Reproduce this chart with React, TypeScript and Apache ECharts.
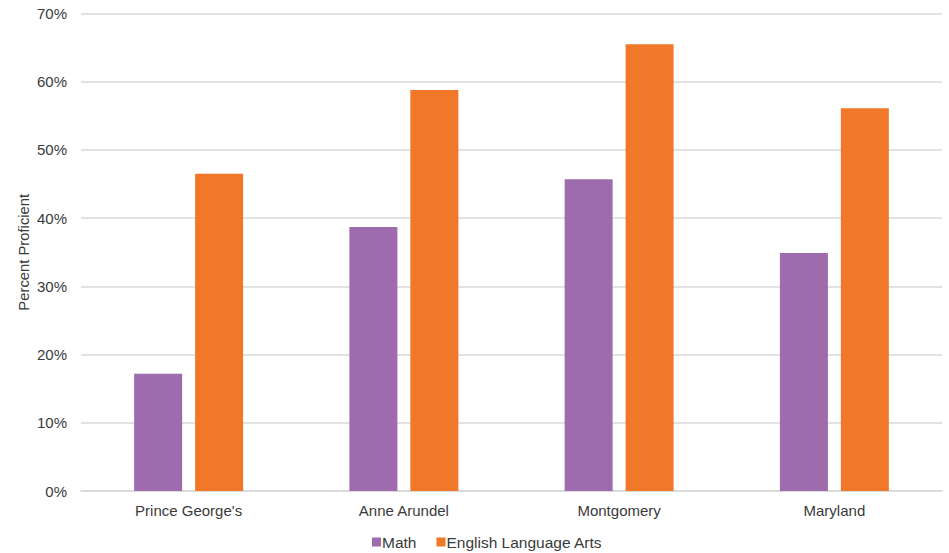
import React, { useEffect, useRef } from "react";
import * as echarts from "echarts";

// Share of students scoring proficient, by jurisdiction
const categories = ["Prince George's", "Anne Arundel", "Montgomery", "Maryland"];
const mathValues = [17.2, 38.7, 45.7, 34.9];
const elaValues = [46.5, 58.8, 65.5, 56.1];
const seriesNames = ["Math", "English Language Arts"];

const FONT = "'Liberation Sans', Arial, sans-serif";
const TEXT = "#3a3a3a";

export default function App() {
  const ref = useRef<HTMLDivElement>(null);

  useEffect(() => {
    if (!ref.current) return;
    const chart = echarts.init(ref.current, undefined, { renderer: "svg" });
    chart.setOption({
      animation: false,
      backgroundColor: "#ffffff",
      textStyle: { fontFamily: FONT },
      grid: { left: 81, right: 7, top: 13.5, bottom: 62, containLabel: false },
      legend: {
        data: seriesNames,
        left: 367,
        top: 529,
        itemWidth: 9,
        itemHeight: 9,
        itemGap: 20,
        icon: "rect",
        textStyle: { fontFamily: FONT, fontSize: 15.5, color: TEXT, padding: [0, 0, 0, -4] },
      },
      xAxis: {
        type: "category",
        data: categories,
        axisLine: { show: true, lineStyle: { color: "#d9d9d9", width: 1.5 } },
        axisTick: { show: false },
        axisLabel: { fontFamily: FONT, fontSize: 15, color: TEXT, margin: 12 },
      },
      yAxis: {
        type: "value",
        min: 0,
        max: 70,
        interval: 10,
        name: "Percent Proficient",
        nameLocation: "middle",
        nameGap: 50,
        nameMoveOverlap: false,
        nameTextStyle: { fontFamily: FONT, fontSize: 14.8, color: TEXT },
        axisLine: { show: false },
        axisTick: { show: false },
        axisLabel: {
          fontFamily: FONT,
          fontSize: 15,
          color: TEXT,
          margin: 14,
          formatter: (v: number) => `${v}%`,
        },
        splitLine: { lineStyle: { color: "#d9d9d9", width: 1.5 } },
      },
      series: [
        {
          name: seriesNames[0],
          type: "bar",
          data: mathValues,
          barWidth: 48,
          barGap: "27%",
          itemStyle: { color: "#9e6bad" },
        },
        {
          name: seriesNames[1],
          type: "bar",
          data: elaValues,
          barWidth: 48,
          barGap: "27%",
          itemStyle: { color: "#f07828" },
        },
      ],
    });
    return () => chart.dispose();
  }, []);

  return (
    <div
      ref={ref}
      style={{ position: "absolute", left: 0, top: 0, width: 949, height: 553 }}
    />
  );
}
